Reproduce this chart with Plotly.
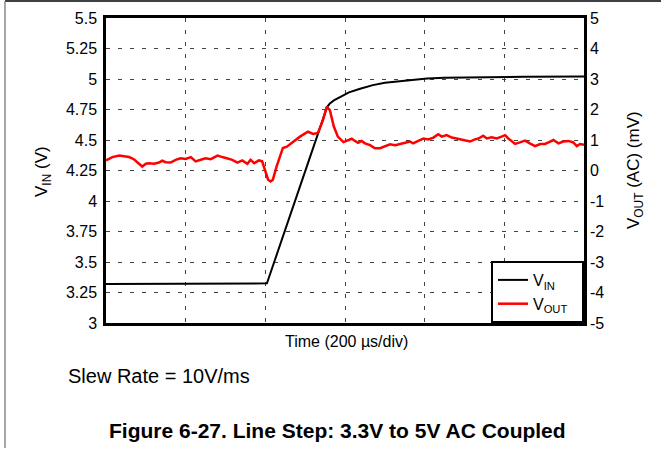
"""
Line step response: 3.3V to 5V input step, AC-coupled output ripple.
"""

import plotly.graph_objects as go


# Plot frame in pixels (661 x 451 canvas)
W, H = 661, 451
PLOT_L, PLOT_R, PLOT_T, PLOT_B = 106, 584, 18, 323

FONT = "'Liberation Sans', Arial, sans-serif"

# Input voltage (V) vs time (us)
t_in = [0, 100, 200, 300, 400, 404, 555, 562, 572, 587, 610, 638, 670, 700,
        730, 770, 806, 850, 950, 1050, 1200]
v_in = [3.32, 3.321, 3.319, 3.32, 3.32, 3.325, 4.77, 4.80, 4.825, 4.85, 4.89,
        4.92, 4.95, 4.97, 4.98, 4.995, 5.005, 5.01, 5.015, 5.018, 5.02]

# Output voltage, AC coupled (mV) vs time (us)
t_out = [0, 3, 16, 33, 45, 58, 70, 83, 91, 100, 108, 121, 133, 141, 150, 162,
         175, 187, 200, 213, 225, 238, 250, 263, 280, 292, 305, 317, 330, 342,
         355, 363, 372, 384, 392, 401, 407, 413, 419, 428, 436, 444, 454, 469,
         487, 507, 520, 532, 545, 554, 562, 572, 582, 596, 608, 617, 625, 633,
         642, 650, 663, 675, 688, 700, 713, 726, 738, 751, 763, 771, 784, 797,
         809, 822, 834, 843, 855, 868, 880, 889, 901, 914, 926, 935, 947, 956,
         968, 981, 993, 1002, 1010, 1018, 1027, 1039, 1052, 1064, 1077, 1090,
         1102, 1115, 1123, 1136, 1148, 1161, 1173, 1182, 1190, 1200]
v_out = [0.33, 0.35, 0.44, 0.49, 0.46, 0.44, 0.37, 0.24, 0.13, 0.22, 0.24,
         0.22, 0.26, 0.32, 0.27, 0.26, 0.35, 0.40, 0.38, 0.44, 0.30, 0.35,
         0.40, 0.37, 0.49, 0.44, 0.40, 0.35, 0.26, 0.33, 0.22, 0.35, 0.24,
         0.33, 0.30, -0.03, -0.30, -0.36, -0.30, 0.12, 0.45, 0.74, 0.78,
         0.94, 1.11, 1.27, 1.20, 1.23, 1.66, 2.09, 1.98, 1.44, 1.11, 0.93,
         1.00, 1.04, 0.97, 0.91, 0.97, 0.89, 0.83, 0.73, 0.73, 0.80, 0.86,
         0.83, 0.86, 0.91, 0.95, 0.89, 0.97, 1.05, 1.02, 1.08, 1.19, 1.11,
         1.16, 1.08, 1.05, 1.03, 0.98, 0.95, 1.02, 1.05, 1.14, 1.05, 1.09,
         1.05, 1.11, 1.16, 1.05, 0.95, 0.87, 0.92, 0.98, 0.89, 0.80, 0.87,
         0.87, 0.95, 1.00, 0.89, 0.95, 0.97, 0.92, 0.80, 0.87, 0.84]

# Axis ticks
vin_ticks = [3, 3.25, 3.5, 3.75, 4, 4.25, 4.5, 4.75, 5, 5.25, 5.5]
vout_ticks = [-5, -4, -3, -2, -1, 0, 1, 2, 3, 4, 5]
vout_labels = ["-5", "-4", "-3", "-2", "-1", "0", "1", "2", "3", "4", "5"]


def px_x(px):
    """Convert a canvas x pixel to paper coordinates."""
    return (px - PLOT_L) / (PLOT_R - PLOT_L)


def px_y(py):
    """Convert a canvas y pixel to paper coordinates."""
    return (PLOT_B - py) / (PLOT_B - PLOT_T)


def add_text(text, x, y, size, xanchor="center", angle=0):
    """Place a text label at a canvas pixel position."""
    fig.add_annotation(
        x=px_x(x), y=px_y(y), xref="paper", yref="paper",
        xanchor=xanchor, yanchor="middle",
        text=text, textangle=angle, showarrow=False,
        font=dict(size=size),
    )


fig = go.Figure()

fig.add_trace(go.Scatter(
    x=t_in, y=v_in,
    name="V<sub>IN</sub>",
    mode="lines",
    line=dict(color="#000000", width=2),
))

fig.add_trace(go.Scatter(
    x=t_out, y=v_out,
    name="V<sub>OUT</sub>\u00a0\u00a0",
    mode="lines",
    line=dict(color="#ff0000", width=2.5),
    yaxis="y2",
))

grid = dict(gridcolor="#444444", gridwidth=1, griddash="4px,8px")

fig.update_layout(
    width=W,
    height=H,
    margin=dict(l=PLOT_L, r=W - PLOT_R, t=PLOT_T, b=H - PLOT_B, autoexpand=False),
    paper_bgcolor="#ffffff",
    plot_bgcolor="#ffffff",
    font=dict(family=FONT, color="#000000", size=16),
    xaxis=dict(
        range=[0, 1200],
        tickvals=[0, 200, 400, 600, 800, 1000, 1200],
        showticklabels=False,
        ticks="",
        showgrid=True,
        zeroline=False,
        showline=True,
        mirror=True,
        linecolor="#000000",
        linewidth=2.5,
        automargin=False,
        **grid,
    ),
    yaxis=dict(
        range=[3, 5.5],
        tickvals=vin_ticks,
        ticks="",
        showgrid=True,
        zeroline=False,
        showline=True,
        mirror=True,
        linecolor="#000000",
        linewidth=2.5,
        tickfont=dict(size=16),
        ticklabelstandoff=3,
        automargin=False,
        **grid,
    ),
    yaxis2=dict(
        range=[-5, 5],
        tickvals=vout_ticks,
        ticktext=vout_labels,
        ticks="",
        overlaying="y",
        side="right",
        showgrid=False,
        zeroline=False,
        showline=False,
        tickfont=dict(size=16),
        ticklabelstandoff=5,
        automargin=False,
    ),
    showlegend=True,
    legend=dict(
        x=1, y=0,
        xanchor="right", yanchor="bottom",
        bgcolor="#ffffff",
        bordercolor="#000000",
        borderwidth=2,
        font=dict(size=16),
        tracegroupgap=0,
    ),
)

# Axis titles and captions
add_text("V<sub>IN</sub> (V)", 43, 171, 17, angle=-90)
add_text("V<sub>OUT</sub> (AC) (mV)", 635, 170, 17, angle=-90)
add_text("Time (200 \u00b5s/div)", 346, 341, 16)
add_text("Slew Rate = 10V/ms", 66, 376, 20, xanchor="left")
add_text("<b>Figure 6-27. Line Step: 3.3V to 5V AC Coupled</b>", 337, 430, 21)

# Page frame: top rule and left rule
fig.add_shape(type="line", xref="paper", yref="paper",
              x0=px_x(5), y0=px_y(1), x1=px_x(661), y1=px_y(1),
              line=dict(color="#000000", width=1.5))
fig.add_shape(type="line", xref="paper", yref="paper",
              x0=px_x(5), y0=px_y(1), x1=px_x(5), y1=px_y(448),
              line=dict(color="#888888", width=1.5))

# Drop the browser's default body margin so the figure sits at the page origin
fig.write_html(
    "out.html",
    config={"displayModeBar": False},
    post_script="document.body.style.margin='0';",
)
